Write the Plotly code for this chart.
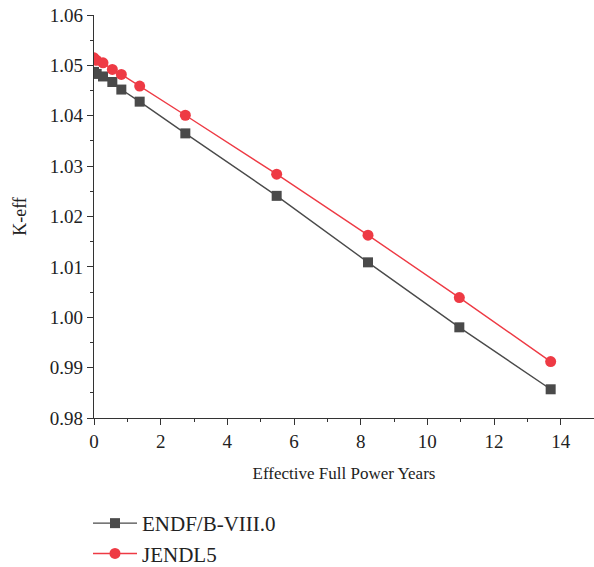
import plotly.graph_objects as go

efpy = [0, 0.08, 0.27, 0.55, 0.82, 1.37, 2.74, 5.48, 8.22, 10.96, 13.70]
endf = [1.0487, 1.0483, 1.0478, 1.0467, 1.0452, 1.0428, 1.0365, 1.0241, 1.0109, 0.9980, 0.9857]
jendl = [1.0515, 1.0510, 1.0505, 1.0492, 1.0482, 1.0459, 1.0401, 1.0284, 1.0163, 1.0039, 0.9912]
names = ["ENDF/B-VIII.0", "JENDL5"]

FONT = "Liberation Serif, Times New Roman, serif"
fig = go.Figure()
fig.add_trace(go.Scatter(x=efpy, y=endf, name=names[0], mode="lines+markers",
                         line=dict(color="#4a4a4a", width=1.4),
                         marker=dict(symbol="square", size=10, color="#4a4a4a"),
                         legendgroup="a"))
fig.add_trace(go.Scatter(x=efpy, y=jendl, name=names[1], mode="lines+markers",
                         line=dict(color="#ee3a44", width=1.4),
                         marker=dict(symbol="circle", size=11, color="#ee3a44"),
                         legendgroup="b"))

fig.update_layout(
    width=594, height=567,
    margin=dict(l=94, r=0, t=15, b=149, autoexpand=False),
    plot_bgcolor="white", paper_bgcolor="white",
    font=dict(family=FONT, size=18, color="#222"),
    legend=dict(x=-0.012, xanchor="left", y=(418 - 503) / 403, yanchor="top",
                bgcolor="rgba(0,0,0,0)", tracegroupgap=0, itemwidth=44,
                font=dict(family=FONT, size=21, color="#222")),
    xaxis=dict(range=[0, 15], tickvals=[0, 2, 4, 6, 8, 10, 12, 14],
               showline=True, linecolor="#333", linewidth=1.3, mirror=False,
               ticks="outside", ticklen=6, tickcolor="#333", tickwidth=1.3,
               minor=dict(dtick=1, ticks="outside", ticklen=3, tickcolor="#333", tickwidth=1.2),
               showgrid=False, zeroline=False,
               tickfont=dict(family=FONT, size=19, color="#222"),
               title=dict(text="Effective Full Power Years", standoff=16,
                          font=dict(family=FONT, size=17, color="#222"))),
    yaxis=dict(range=[0.98, 1.06], dtick=0.01, tickformat=".2f",
               showline=True, linecolor="#333", linewidth=1.3,
               ticks="outside", ticklen=6, tickcolor="#333", tickwidth=1.3,
               minor=dict(dtick=0.005, ticks="outside", ticklen=3, tickcolor="#333", tickwidth=1.2),
               showgrid=False, zeroline=False,
               tickfont=dict(family=FONT, size=19, color="#222"),
               title=dict(text="K-eff", standoff=18,
                          font=dict(family=FONT, size=18, color="#222"))),
)
fig.write_html("out.html", config={"displayModeBar": False},
               post_script="document.body.style.margin='0';")
